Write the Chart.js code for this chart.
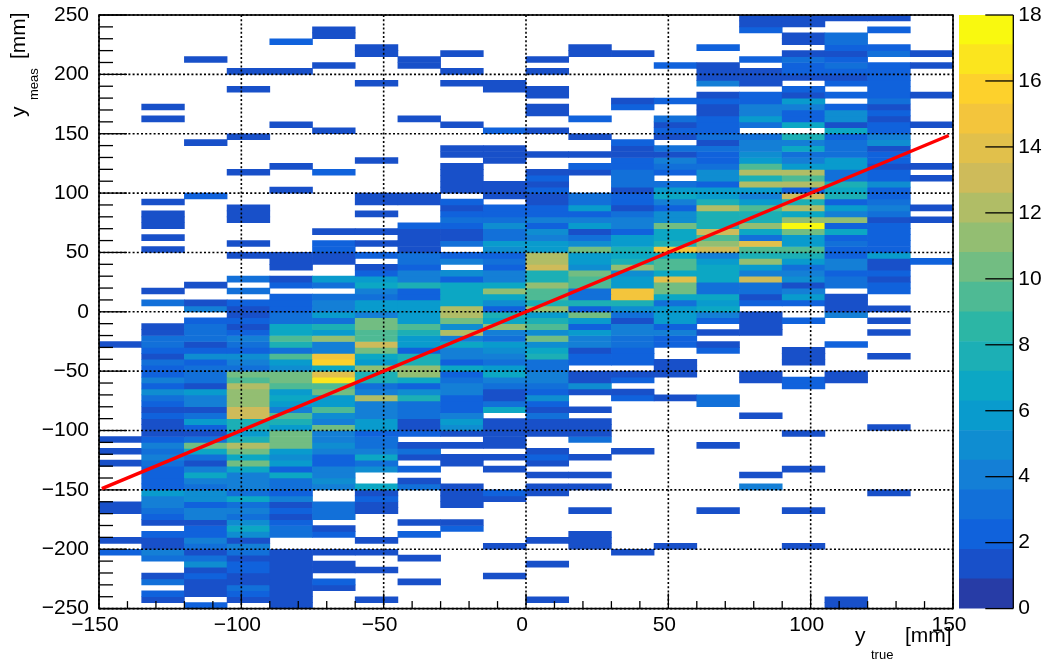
<!DOCTYPE html>
<html>
<head>
<meta charset="utf-8">
<title>y meas vs y true</title>
<script src="https://cdn.jsdelivr.net/npm/chart.js@4"></script>
<style>
    html, body { margin: 0; padding: 0; background: #fff; }
    canvas { position: absolute; top: 0; display: block; }
    #mainChart { left: 0; }
    #colorBar { left: 950px; }
</style>
</head>
<body>
<canvas id="mainChart" width="1047" height="663"></canvas>
<canvas id="colorBar" width="97" height="663"></canvas>
<script>
// bin edges (mm)
const xEdges = [-150, -135, -120, -105, -90, -75, -60, -45, -30, -15, 0, 15, 30, 45, 60, 75, 90, 105, 120, 135, 150];
const yBinTop = 250;
const yBinWidth = 5;

// counts per y_true column, rows run from y_meas = 250 (top) down to -250
const col00 = [0,0,0,0,0,0,0,0,0,0, 0,0,0,0,0,0,0,0,0,0, 0,0,0,0,0,0,0,0,0,0, 0,0,0,0,0,0,0,0,0,0, 0,0,0,0,0,0,0,0,0,0,
    0,0,0,0,0,1,0,0,0,0, 0,0,0,0,0,0,0,0,0,0, 0,1,0,1,0,1,0,0,0,0, 0,0,1,1,0,0,0,0,1,0, 2,0,0,0,0,0,0,0,0,0];
const col01 = [0,0,0,0,0,0,0,0,0,0, 0,0,0,0,0,1,0,1,0,0, 0,0,0,0,0,0,0,0,0,0, 0,1,0,1,1,1,0,1,0,1, 0,0,0,0,0,0,1,0,3,0,
    0,0,1,1,3,3,2,1,3,2, 2,4,2,5,3,2,1,2,1,1, 1,2,4,3,4,3,2,2,2,2, 6,4,4,3,2,1,0,2,1,1, 4,3,0,0,1,3,0,2,1,0];
const col02 = [0,0,0,0,0,0,0,1,0,0, 0,0,0,0,0,0,0,0,0,0, 0,1,0,0,0,0,0,0,0,0, 2,0,0,0,0,0,0,0,0,0, 0,0,0,0,0,1,0,0,1,4,
    0,2,3,3,3,1,2,5,2,3, 3,3,1,6,4,4,1,3,6,2, 1,3,10,7,3,1,4,7,4,3, 5,5,2,4,4,1,2,2,4,3, 1,3,5,1,2,1,1,1,0,2];
const col03 = [0,0,0,0,0,0,0,0,0,1, 0,0,1,0,0,0,0,0,0,0, 1,0,0,0,0,0,1,0,0,0, 0,0,1,1,1,0,0,0,1,0, 1,0,0,0,3,0,3,0,2,1,
    1,2,1,2,4,3,2,5,4,3, 10,9,12,11,11,11,13,13,8,8, 6,8,12,10,7,10,7,4,4,4, 3,7,3,4,3,5,7,5,1,4, 3,1,2,2,1,1,3,2,1,0];
const col04 = [0,0,0,0,2,0,0,0,0,1, 0,0,0,0,0,0,0,0,1,0, 0,0,0,0,0,1,0,0,0,1, 0,0,0,0,0,0,0,0,0,0, 1,1,1,0,1,2,0,2,2,2,
    3,3,7,7,9,8,3,9,6,5, 10,10,9,6,7,6,4,9,8,6, 10,10,10,6,5,6,2,7,3,3, 2,4,1,2,1,2,3,3,0,0, 1,1,1,1,1,1,1,1,1,1];
const col05 = [0,0,1,1,0,0,0,0,1,0, 0,0,0,0,0,0,0,0,0,1, 0,0,0,0,0,0,2,0,0,0, 0,0,0,0,0,0,1,0,2,2, 1,1,0,0,6,3,0,3,4,4,
    6,3,8,6,11,4,4,15,16,7, 14,17,9,10,6,6,9,5,4,10, 4,4,5,4,2,2,4,4,5,4, 0,0,3,3,3,0,1,2,0,0, 1,0,1,1,0,2,1,0,0,0];
const col06 = [0,0,0,0,0,1,1,0,0,0, 0,1,0,0,0,0,0,0,0,0, 0,0,0,0,1,0,0,0,0,0, 1,1,0,1,0,0,1,0,1,0, 2,0,1,2,6,7,4,3,6,6,
    4,10,10,9,9,13,10,7,6,11, 8,8,3,4,12,4,4,4,6,6, 2,3,3,4,7,3,5,0,0,7, 1,2,1,1,0,0,0,0,1,0, 1,0,0,1,0,0,0,0,1,0];
const col07 = [0,0,0,0,0,0,0,1,1,0, 0,0,0,0,0,0,0,1,0,0, 0,0,0,0,0,0,0,0,0,0, 1,1,0,0,0,2,1,1,1,1, 3,3,2,4,4,8,2,2,6,6,
    6,6,9,8,6,6,2,8,8,11, 11,7,2,5,8,3,3,3,1,1, 2,0,1,3,1,0,2,0,1,3, 0,0,0,0,0,1,0,2,0,0, 0,1,0,0,0,1,0,0,0,0];
const col08 = [0,0,0,0,0,0,1,0,0,1, 0,1,0,0,0,0,0,0,1,0, 0,0,1,1,0,1,1,1,1,1, 0,2,1,2,3,2,1,1,3,0, 2,4,0,5,2,7,7,7,7,12,
    12,10,5,12,4,7,4,4,2,7, 2,3,4,4,2,2,2,4,6,5, 1,0,1,0,1,1,0,0,0,1, 1,1,1,0,0,1,2,0,0,0, 0,0,0,0,0,0,0,0,0,0];
const col09 = [0,0,0,0,0,0,0,0,0,0, 0,1,1,0,0,0,0,0,0,2, 0,0,1,1,1,0,0,0,1,1, 1,0,2,2,3,5,3,3,6,5, 2,3,2,4,4,7,11,7,5,2,
    8,7,11,4,3,6,5,4,3,6, 7,4,3,1,1,3,7,0,1,1, 1,1,1,0,1,0,1,0,0,0, 2,1,0,0,0,0,0,0,0,1, 0,0,0,0,1,0,0,0,0,0];
const col10 = [0,0,0,0,0,0,0,1,0,1, 0,0,1,1,0,1,1,0,0,1, 0,0,0,1,0,0,1,2,1,2, 1,1,2,2,4,2,5,4,6,6, 12,12,13,8,8,11,9,9,8,11,
    6,8,9,5,10,5,7,8,3,3, 4,4,3,2,5,2,1,3,1,1, 1,0,0,1,2,1,0,1,0,1, 1,0,0,0,0,0,0,0,1,0, 0,0,1,0,0,0,0,0,1,0];
const col11 = [0,0,0,0,0,1,1,0,0,0, 0,0,0,0,0,0,0,2,0,0, 1,0,0,1,0,2,1,0,0,0, 3,3,6,2,4,6,1,3,5,10, 6,6,5,10,9,9,3,3,8,2,
    10,6,2,6,4,4,1,2,2,0, 1,1,5,1,0,0,1,0,1,1, 1,3,0,0,1,0,0,1,0,1, 0,0,0,1,0,0,0,1,1,1, 0,0,0,0,0,0,0,0,0,0];
const col12 = [0,0,0,0,0,0,1,0,0,0, 0,0,0,0,1,2,0,0,0,0, 0,2,1,1,2,2,3,3,3,1, 2,2,1,3,4,4,2,6,6,8, 7,8,11,5,6,6,15,15,8,5,
    3,1,4,4,3,3,2,2,2,0, 1,2,0,1,2,0,0,0,0,0, 0,0,0,1,0,0,0,0,0,0, 0,0,0,0,0,0,0,0,0,0, 1,0,0,0,0,0,0,0,0,0];
const col13 = [0,0,0,0,0,0,0,0,2,0, 0,0,0,0,2,0,0,3,1,2, 1,0,3,1,4,3,2,0,3,6, 7,4,2,5,5,10,7,7,8,15, 7,9,9,7,14,10,10,7,3,6,
    6,6,2,4,2,2,0,0,1,1, 1,0,0,0,1,0,0,0,0,0, 0,0,0,0,0,0,0,0,0,0, 0,0,0,0,0,0,0,0,0,1, 0,0,0,0,0,0,0,0,0,0];
const col14 = [0,0,0,0,0,2,0,0,1,1, 1,4,0,1,2,1,1,2,2,2, 3,1,3,2,2,3,5,5,2,6, 6,8,12,8,8,8,13,9,11,13, 4,6,7,7,7,3,3,7,6,7,
    4,2,0,1,0,1,2,0,0,0, 0,0,0,0,3,3,0,0,0,0, 0,0,1,0,0,0,0,0,0,0, 0,0,0,1,0,0,0,0,0,0, 0,0,0,0,0,0,0,0,0,0];
const col15 = [1,1,2,0,0,0,0,2,0,1, 1,1,0,2,2,4,4,6,3,0, 3,4,4,5,6,9,12,8,12,6, 4,6,9,8,8,11,7,3,14,9, 8,11,6,4,13,3,3,1,2,0,
    1,1,1,1,0,0,0,0,0,0, 1,1,0,0,0,0,0,1,0,0, 0,0,0,0,0,0,0,1,0,4, 0,0,0,0,0,0,0,0,0,0, 0,0,0,0,0,0,0,0,0,0];
const col16 = [1,1,0,1,1,0,1,3,2,2, 1,0,2,1,6,4,2,2,7,0, 8,4,7,3,4,6,12,9,12,2, 13,8,12,7,11,18,10,6,6,9, 8,6,3,4,5,1,4,6,2,0,
    0,2,0,0,0,0,1,1,1,0, 0,2,2,0,0,0,0,0,0,0, 1,0,0,0,0,0,1,0,0,0, 0,0,0,1,0,0,0,0,0,1, 0,0,0,0,0,0,0,0,0,0];
const col17 = [1,0,0,3,3,2,1,2,3,2, 1,2,0,2,0,2,5,5,1,7, 2,3,3,3,6,6,3,3,8,7, 8,2,6,4,11,2,7,2,3,2, 2,4,4,2,3,3,0,1,1,1,
    4,0,0,0,0,2,0,0,0,0, 1,1,0,0,0,0,0,0,0,0, 0,0,0,0,0,0,0,0,0,0, 0,0,0,0,0,0,0,0,0,0, 0,0,0,0,0,0,0,0,1,1];
const col18 = [1,0,2,0,0,2,3,0,2,2, 2,2,2,2,3,1,2,1,2,2, 4,5,1,2,2,1,2,2,5,2, 2,3,4,3,1,2,2,2,2,2, 6,1,1,2,1,2,2,0,0,1,
    0,1,0,1,0,0,0,1,0,0, 0,0,0,0,0,0,0,0,0,1, 0,0,0,0,0,0,0,0,0,0, 1,0,0,0,0,0,0,0,0,0, 0,0,0,0,0,0,0,0,0,0];
const col19 = [0,0,0,0,0,0,1,0,1,0, 0,0,0,1,0,0,0,0,1,0, 0,0,0,0,0,1,0,1,0,0, 0,0,1,0,1,0,0,0,0,0, 0,2,0,0,0,0,0,0,0,0,
    0,0,0,0,0,0,0,0,0,0, 0,0,0,0,0,0,0,0,0,0, 0,0,0,0,0,0,0,0,0,0, 0,0,0,0,0,0,0,0,0,0, 0,0,0,0,0,0,0,0,0,0];
const columns = [col00, col01, col02, col03, col04, col05, col06, col07, col08, col09,
    col10, col11, col12, col13, col14, col15, col16, col17, col18, col19];

// y = x reference line
const lineX = [-149, 148.5];
const lineY = [-149, 148.5];

// colour scale: 20 contours from 0 to 18
const zMax = 18;
const zBands = 20;
const birdRed = [0.2082, 0.0592, 0.0780, 0.0232, 0.1802, 0.5301, 0.8186, 0.9956, 0.9764];
const birdGreen = [0.1664, 0.3599, 0.5041, 0.6419, 0.7178, 0.7492, 0.7328, 0.7862, 0.9832];
const birdBlue = [0.5293, 0.8684, 0.8385, 0.7914, 0.6425, 0.4662, 0.3499, 0.1968, 0.0539];

const fontFamily = '"Liberation Sans", Arial, sans-serif';
const labelFont = { family: fontFamily, size: 21 };

function bandColor(band) {
    const t = (band + 0.9) / zBands * (birdRed.length - 1);
    const i = Math.min(Math.floor(t), birdRed.length - 2);
    const f = t - i;
    const mix = s => Math.round(255 * (s[i] + (s[i + 1] - s[i]) * f));
    return `rgb(${mix(birdRed)}, ${mix(birdGreen)}, ${mix(birdBlue)})`;
}

function countColor(v) {
    const band = Math.min(zBands - 1, Math.floor(v / (zMax / zBands) + 1e-9));
    return bandColor(band);
}

function minusSign(value) {
    return String(value).replace('-', '\u2212');
}

function buildCellDatasets() {
    const datasets = [];
    for (let row = 0; row < 100; row++) {
        const hi = yBinTop - row * yBinWidth;
        const lo = hi - yBinWidth;
        datasets.push({
            type: 'bar',
            xAxisID: 'x',
            yAxisID: 'y',
            order: 1,
            grouped: false,
            barPercentage: 1,
            categoryPercentage: 1,
            borderWidth: 0,
            data: columns.map(col => col[row] > 0 ? [lo, hi] : null),
            backgroundColor: columns.map(col => countColor(col[row]))
        });
    }
    return datasets;
}

function strokeSegment(ctx, x1, y1, x2, y2) {
    ctx.beginPath();
    ctx.moveTo(x1, y1);
    ctx.lineTo(x2, y2);
    ctx.stroke();
}

// ROOT style: dotted grid on the majors, ticks inside the frame
const rootAxesPlugin = {
    id: 'rootAxes',
    beforeDatasetDraw(chart, args) {
        if (args.meta.type !== 'line') return;
        const { ctx, chartArea: area, scales } = chart;
        const sx = scales.xVal;
        const sy = scales.y;
        ctx.save();
        ctx.strokeStyle = '#000';

        ctx.lineWidth = 1.6;
        ctx.setLineDash([2, 2.2]);
        sx.ticks.forEach(t => {
            const px = sx.getPixelForValue(t.value);
            strokeSegment(ctx, px, area.top, px, area.bottom);
        });
        sy.ticks.forEach(t => {
            const py = sy.getPixelForValue(t.value);
            strokeSegment(ctx, area.left, py, area.right, py);
        });
        ctx.setLineDash([]);

        ctx.lineWidth = 1.3;
        for (let v = sx.min; v <= sx.max; v += 10) {
            const px = sx.getPixelForValue(v);
            strokeSegment(ctx, px, area.bottom, px, area.bottom - (v % 50 === 0 ? 15 : 7.5));
        }
        for (let v = sy.min; v <= sy.max; v += 10) {
            const py = sy.getPixelForValue(v);
            strokeSegment(ctx, area.left, py, area.left + (v % 50 === 0 ? 28 : 14), py);
        }
        ctx.restore();
    },
    afterDraw(chart) {
        const { ctx, chartArea: area } = chart;
        ctx.save();
        ctx.strokeStyle = '#000';
        ctx.lineWidth = 1.6;
        ctx.strokeRect(area.left, area.top, area.right - area.left, area.bottom - area.top);

        ctx.fillStyle = '#000';
        ctx.textAlign = 'left';
        ctx.textBaseline = 'alphabetic';
        const drawText = (text, x, y, size, rotated) => {
            ctx.save();
            ctx.translate(x, y);
            if (rotated) ctx.rotate(-Math.PI / 2);
            ctx.font = `${size}px ${fontFamily}`;
            ctx.fillText(text, 0, 0);
            ctx.restore();
        };
        drawText('y', 855, 642, 21);
        drawText('true', 871, 659, 13);
        drawText('[mm]', 905, 642, 21);
        drawText('y', 25, 117, 21, true);
        drawText('meas', 38, 100, 13, true);
        drawText('[mm]', 25, 59, 21, true);
        ctx.restore();
    }
};

const colorBarPlugin = {
    id: 'colorBarAxis',
    afterDraw(chart) {
        const { ctx, chartArea: area, scales } = chart;
        ctx.save();
        ctx.strokeStyle = '#000';
        ctx.lineWidth = 1.3;
        strokeSegment(ctx, area.right, area.top, area.right, area.bottom);
        scales.y.ticks.forEach(t => {
            const py = scales.y.getPixelForValue(t.value);
            strokeSegment(ctx, area.right, py, area.right - 28, py);
        });
        ctx.restore();
    }
};

new Chart(document.getElementById('mainChart').getContext('2d'), {
    type: 'bar',
    data: {
        labels: xEdges.slice(0, -1),
        datasets: [
            ...buildCellDatasets(),
            {
                type: 'line',
                xAxisID: 'xVal',
                yAxisID: 'y',
                order: 0,
                data: lineX.map((x, i) => ({ x: x, y: lineY[i] })),
                borderColor: '#ff0000',
                borderWidth: 3.5,
                pointRadius: 0,
                tension: 0
            }
        ]
    },
    options: {
        responsive: false,
        animation: false,
        events: [],
        layout: { padding: { top: 15, right: 94, left: 0, bottom: 0 } },
        plugins: { legend: { display: false }, tooltip: { enabled: false }, title: { display: false } },
        scales: {
            x: { type: 'category', display: false, offset: true },
            xVal: {
                type: 'linear',
                position: 'bottom',
                min: -150,
                max: 150,
                offset: false,
                grid: { display: false, drawTicks: false, offset: false },
                border: { display: false },
                ticks: {
                    stepSize: 50,
                    maxRotation: 0,
                    autoSkip: false,
                    padding: 4,
                    labelOffset: -4,
                    color: '#000',
                    font: labelFont,
                    callback: value => minusSign(value)
                },
                afterFit(scale) {
                    scale.height = 54.4;
                    scale.paddingLeft = 0;
                    scale.paddingRight = 0;
                }
            },
            y: {
                type: 'linear',
                position: 'left',
                min: -250,
                max: 250,
                grid: { display: false, drawTicks: false },
                border: { display: false },
                ticks: {
                    stepSize: 50,
                    padding: 10,
                    color: '#000',
                    font: labelFont,
                    callback: value => minusSign(value)
                },
                afterFit(scale) {
                    scale.width = 99;
                    scale.paddingTop = 0;
                    scale.paddingBottom = 0;
                }
            }
        }
    },
    plugins: [rootAxesPlugin]
});

const zEdges = [];
for (let i = 0; i <= zBands; i++) zEdges.push(i * zMax / zBands);

new Chart(document.getElementById('colorBar').getContext('2d'), {
    type: 'bar',
    data: {
        labels: ['z'],
        datasets: zEdges.slice(0, -1).map((lo, i) => ({
            grouped: false,
            barPercentage: 1,
            categoryPercentage: 1,
            borderWidth: 0,
            data: [[lo, zEdges[i + 1]]],
            backgroundColor: bandColor(i)
        }))
    },
    options: {
        responsive: false,
        animation: false,
        events: [],
        layout: { padding: { top: 15, bottom: 54.4, left: 9, right: 0 } },
        plugins: { legend: { display: false }, tooltip: { enabled: false } },
        scales: {
            x: { display: false },
            y: {
                type: 'linear',
                position: 'right',
                min: 0,
                max: zMax,
                grid: { display: false, drawTicks: false },
                border: { display: false },
                ticks: {
                    stepSize: 2,
                    padding: 5,
                    color: '#000',
                    font: labelFont
                },
                afterFit(scale) {
                    scale.width = 33.7;
                    scale.paddingTop = 0;
                    scale.paddingBottom = 0;
                }
            }
        }
    },
    plugins: [colorBarPlugin]
});
</script>
</body>
</html>
